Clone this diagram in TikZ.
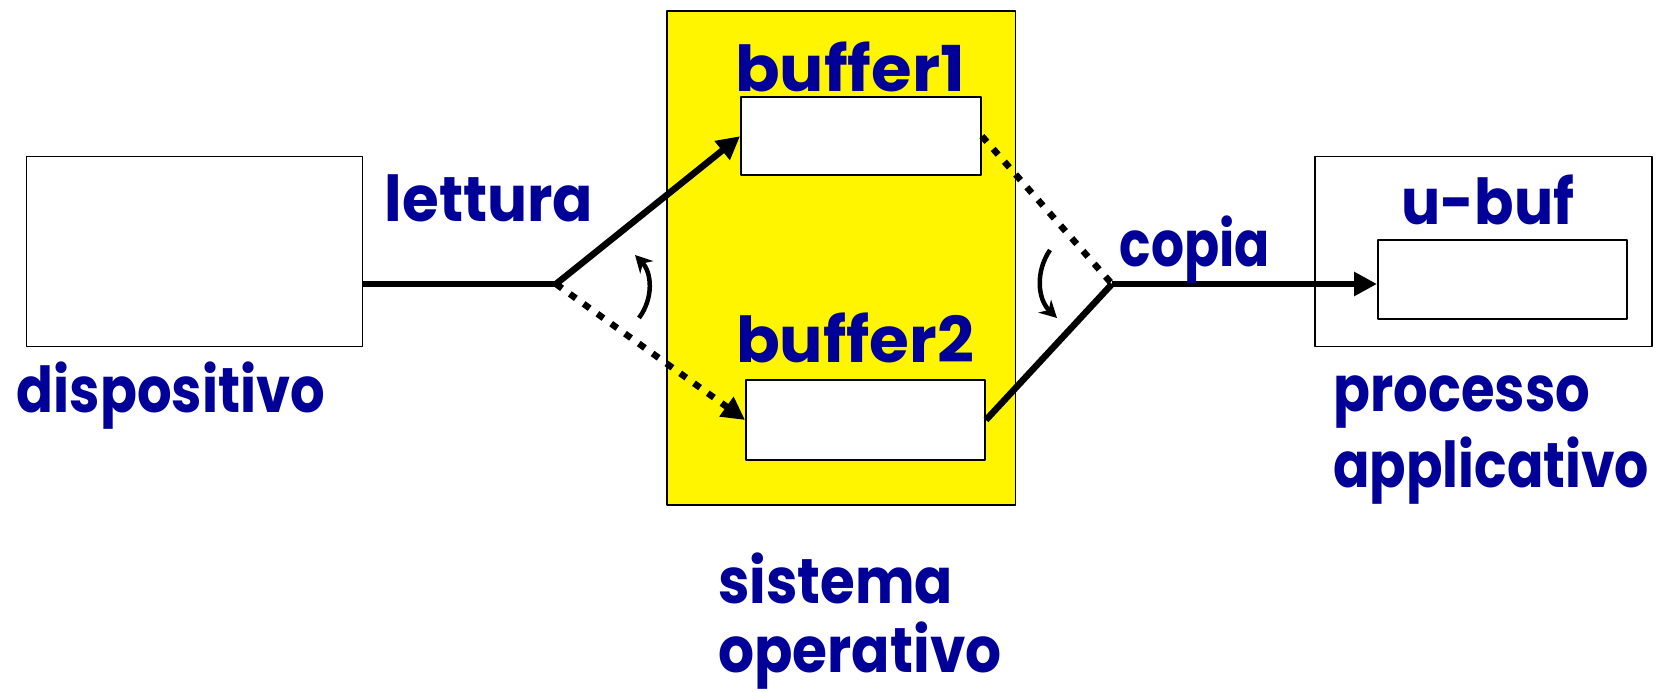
\documentclass[tikz,border=0pt]{standalone}
\usepackage{fontspec}
\setmainfont{Poppins}
\usetikzlibrary{arrows.meta}
\definecolor{testo}{RGB}{0,0,153}
\definecolor{giallo}{RGB}{255,245,0}
\newcommand{\largo}[2]{\scalebox{#1}[1]{#2}}
\begin{document}
\begin{tikzpicture}[x=0.02cm, y=-0.02cm, line join=round, >={Triangle[length=0.46cm,width=0.46cm]},
	scatola/.style={draw, line width=1.1pt, inner sep=0pt},
	etichetta/.style={text=testo, font=\fontsize{36}{43}\selectfont\bfseries, inner sep=0pt},
	linea/.style={line width=0.13cm},
	punti/.style={line width=0.13cm, dash pattern=on 0.15cm off 0.19cm},
	giro/.style={line width=0.09cm, -{Stealth[length=0.34cm,width=0.36cm]}}]
	\useasboundingbox (0,0) rectangle (1657,692);
	\node[scatola, minimum width=6.72cm, minimum height=3.8cm] (disp) at (194.5,251.5) {};
	\node[scatola, fill=giallo, minimum width=6.97cm, minimum height=9.89cm] (so) at (841.3,257.8) {};
	\node[scatola, fill=white, minimum width=4.8cm, minimum height=1.57cm] (buf1) at (861,136.2) {};
	\node[scatola, fill=white, minimum width=4.78cm, minimum height=1.6cm] (buf2) at (865.5,420) {};
	\node[scatola, minimum width=6.74cm, minimum height=3.8cm] (proc) at (1483.2,251.5) {};
	\node[scatola, minimum width=4.99cm, minimum height=1.58cm] (ubuf) at (1502.7,279.5) {};
	\coordinate (jl) at (556,284);
	\coordinate (jr) at (1112,284);
	\draw[linea] (disp.east |- jl) -- (jl);
	\draw[linea, ->] (jl) -- (buf1.west);
	\draw[punti, ->] (jl) -- (buf2.west);
	\draw[punti] (buf1.east) -- (jr);
	\draw[linea] (buf2.east) -- (jr);
	\draw[linea, ->] (jr) -- (jr -| ubuf.west);
	\coordinate (gl1) at (639,318);
	\coordinate (gl2) at (635,255);
	\coordinate (gr1) at (1050,250);
	\coordinate (gr2) at (1057,318);
	\draw[giro] (gl1) to[bend right=40] (gl2);
	\draw[giro] (gr1) to[bend right=40] (gr2);
	\node[etichetta, anchor=base] (tdisp) at (171,413) {\largo{0.86}{dispositivo}};
	\node[etichetta, anchor=base] (tlett) at (489,222) {\largo{0.94}{lettura}};
	\node[etichetta, anchor=base] (tbuf1) at (850,92) {\largo{1.04}{buffer1}};
	\node[etichetta, anchor=base] (tbuf2) at (855,363) {\largo{1.02}{buffer2}};
	\node[etichetta, anchor=base] (tcop) at (1195,267) {\largo{0.82}{copia}};
	\node[etichetta, anchor=base] (tubuf) at (1488,225) {\largo{0.92}{u-buf}};
	\node[etichetta, anchor=base west, align=left] (tproc) at (1333,487) {\largo{0.86}{processo}\\\largo{0.85}{applicativo}};
	\node[etichetta, anchor=base west, align=left] (tso) at (718,672) {\largo{0.89}{sistema}\\[-3.8pt]\largo{0.895}{operativo}};
\end{tikzpicture}
\end{document}
